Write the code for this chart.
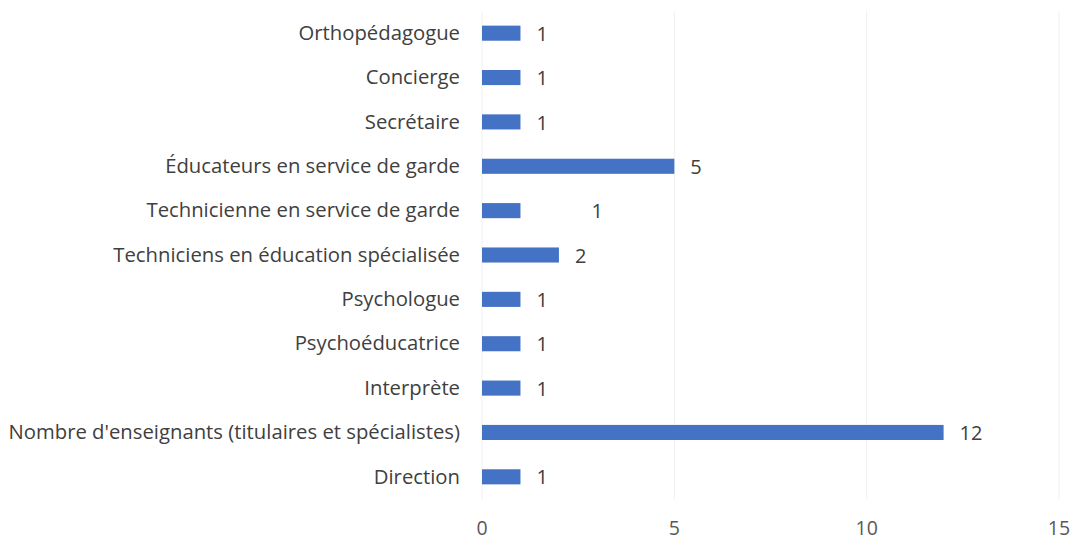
<!DOCTYPE html>
<html>
<head>
<meta charset="utf-8">
<script src="https://cdn.jsdelivr.net/npm/d3@7"></script>
<style>
  body { margin: 0; background: #fff; }
  svg text { font-family: "Open Sans", "Noto Sans", sans-serif; }
</style>
</head>
<body>
<div id="chart"></div>
<script>
// Categories, top to bottom
var categories = [
  "Orthopédagogue",
  "Concierge",
  "Secrétaire",
  "Éducateurs en service de garde",
  "Technicienne en service de garde",
  "Techniciens en éducation spécialisée",
  "Psychologue",
  "Psychoéducatrice",
  "Interprète",
  "Nombre d'enseignants (titulaires et spécialistes)",
  "Direction"
];
var values = [1, 1, 1, 5, 1, 2, 1, 1, 1, 12, 1];
var tickValues = [0, 5, 10, 15];

var width = 1073,
  height = 540;
var margin = { top: 11, right: 14, bottom: 41, left: 482 };

var svg = d3
  .select("#chart")
  .append("svg")
  .attr("width", width)
  .attr("height", height);

var x = d3
  .scaleLinear()
  .domain([0, 15])
  .range([margin.left, width - margin.right]);

var y = d3
  .scaleBand()
  .domain(categories)
  .range([margin.top, height - margin.bottom])
  .paddingInner(0.66)
  .paddingOuter(0.33);

// Faint vertical gridlines
svg
  .selectAll(".grid")
  .data(tickValues)
  .enter()
  .append("line")
  .attr("class", "grid")
  .attr("x1", (d) => x(d))
  .attr("x2", (d) => x(d))
  .attr("y1", margin.top)
  .attr("y2", height - margin.bottom)
  .attr("stroke", "#f0f0f0")
  .attr("stroke-width", 1);

// Bars
svg
  .selectAll(".bar")
  .data(values)
  .enter()
  .append("rect")
  .attr("class", "bar")
  .attr("x", x(0))
  .attr("y", (d, i) => y(categories[i]))
  .attr("width", (d) => x(d) - x(0))
  .attr("height", y.bandwidth())
  .attr("fill", "#4472c4");

// Category labels
svg
  .selectAll(".cat")
  .data(categories)
  .enter()
  .append("text")
  .attr("class", "cat")
  .attr("x", x(0) - 22)
  .attr("y", (d) => y(d) + y.bandwidth() / 2)
  .attr("dy", "0.33em")
  .attr("text-anchor", "end")
  .attr("font-size", 20.3)
  .attr("fill", "#404040")
  .text((d) => d);

// Value labels (the "Technicienne" label sits further right in the original)
svg
  .selectAll(".val")
  .data(values)
  .enter()
  .append("text")
  .attr("class", "val")
  .attr("x", (d, i) => x(d) + (categories[i] === "Technicienne en service de garde" ? 71 : 16))
  .attr("y", (d, i) => y(categories[i]) + y.bandwidth() / 2)
  .attr("dy", "0.38em")
  .attr("font-size", 20)
  .attr("fill", "#404040")
  .text((d) => d);

// X axis tick labels
svg
  .selectAll(".tick-label")
  .data(tickValues)
  .enter()
  .append("text")
  .attr("class", "tick-label")
  .attr("x", (d) => x(d))
  .attr("y", 535)
  .attr("font-size", 19.5)
  .attr("fill", "#595959")
  .attr("text-anchor", "middle")
  .text((d) => d);
</script>
</body>
</html>
